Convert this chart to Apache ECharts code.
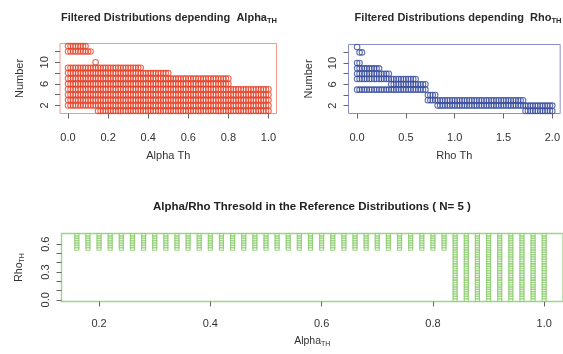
<!DOCTYPE html>
<html>
<head>
<meta charset="utf-8">
<script src="https://cdn.jsdelivr.net/npm/echarts@6/dist/echarts.min.js"></script>
<style>
html,body{margin:0;padding:0;background:#fff;}
#chart{width:563px;height:354px;}
</style>
</head>
<body>
<div id="chart"></div>
<script>
// ---- Data ----
// Alpha thresholds (top-left panel)
const alphaTh = [0,0.0125,0.025,0.0375,0.05,0.0625,0.075,0.0875,0.1,0.1125,0.125,0.1375,0.15,0.1625,0.175,0.1875,0.2,0.2125,0.225,0.2375,0.25,0.2625,0.275,0.2875,0.3,0.3125,0.325,0.3375,0.35,0.3625,0.375,0.3875,0.4,0.4125,0.425,0.4375,0.45,0.4625,0.475,0.4875,0.5,0.5125,0.525,0.5375,0.55,0.5625,0.575,0.5875,0.6,0.6125,0.625,0.6375,0.65,0.6625,0.675,0.6875,0.7,0.7125,0.725,0.7375,0.75,0.7625,0.775,0.7875,0.8,0.8125,0.825,0.8375,0.85,0.8625,0.875,0.8875,0.9,0.9125,0.925,0.9375,0.95,0.9625,0.975,0.9875,1];
// Numbers observed for ranges of alpha thresholds
const alphaRuns = [
  {from:0,      to:0.0875, numbers:[2,3,4,5,6,7,8,9,12,13]},
  {from:0.1,    to:0.1125, numbers:[2,3,4,5,6,7,8,9,12]},
  {from:0.125,  to:0.125,  numbers:[2,3,4,5,6,7,8,9]},
  {from:0.1375, to:0.1375, numbers:[2,3,4,5,6,7,8,9,10]},
  {from:0.15,   to:0.3625, numbers:[1,2,3,4,5,6,7,8,9]},
  {from:0.375,  to:0.5,    numbers:[1,2,3,4,5,6,7,8]},
  {from:0.5125, to:0.8,    numbers:[1,2,3,4,5,6,7]},
  {from:0.8125, to:1,      numbers:[1,2,3,4,5]}
];
// Rho thresholds (top-right panel)
const rhoTh = [0,0.025,0.05,0.075,0.1,0.125,0.15,0.175,0.2,0.225,0.25,0.275,0.3,0.325,0.35,0.375,0.4,0.425,0.45,0.475,0.5,0.525,0.55,0.575,0.6,0.625,0.65,0.675,0.7,0.725,0.75,0.775,0.8,0.825,0.85,0.875,0.9,0.925,0.95,0.975,1,1.025,1.05,1.075,1.1,1.125,1.15,1.175,1.2,1.225,1.25,1.275,1.3,1.325,1.35,1.375,1.4,1.425,1.45,1.475,1.5,1.525,1.55,1.575,1.6,1.625,1.65,1.675,1.7,1.725,1.75,1.775,1.8,1.825,1.85,1.875,1.9,1.925,1.95,1.975,2];
const rhoRuns = [
  {from:0,     to:0,     numbers:[5,7,8,9,10,13]},
  {from:0.025, to:0.025, numbers:[5,7,8,9,10,12]},
  {from:0.05,  to:0.05,  numbers:[5,7,8,9,12]},
  {from:0.075, to:0.225, numbers:[5,7,8,9]},
  {from:0.25,  to:0.325, numbers:[5,7,8]},
  {from:0.35,  to:0.6,   numbers:[5,6,7]},
  {from:0.625, to:0.7,   numbers:[5,6]},
  {from:0.725, to:0.8,   numbers:[3,4]},
  {from:0.825, to:1.7,   numbers:[2,3]},
  {from:1.725, to:2,     numbers:[1,2]}
];
// Bottom panel: alpha columns and rho levels
const refAlpha = [0.16,0.18,0.2,0.22,0.24,0.26,0.28,0.3,0.32,0.34,0.36,0.38,0.4,0.42,0.44,0.46,0.48,0.5,0.52,0.54,0.56,0.58,0.6,0.62,0.64,0.66,0.68,0.7,0.72,0.74,0.76,0.78,0.8,0.82,0.84,0.86,0.88,0.9,0.92,0.94,0.96,0.98,1];
const refRhoHigh = [0.55,0.575,0.6,0.625,0.65,0.675,0.7];
const refRhoAll = [0,0.025,0.05,0.075,0.1,0.125,0.15,0.175,0.2,0.225,0.25,0.275,0.3,0.325,0.35,0.375,0.4,0.425,0.45,0.475,0.5,0.525,0.55,0.575,0.6,0.625,0.65,0.675,0.7];
const refSplitAlpha = 0.84; // columns from here contain all rho levels

// Tick labels
const topLeftXTicks = [0,0.2,0.4,0.6,0.8,1.0];
const topRightXTicks = [0,0.5,1.0,1.5,2.0];
const numberTicks = [2,4,6,8,10,12];
const numberLabels = [2,6,10];
const bottomXTicks = [0.2,0.4,0.6,0.8,1.0];
const bottomYTicks = [0,0.1,0.2,0.3,0.4,0.5,0.6];
const bottomYLabels = [0,0.3,0.6];

// ---- Build point lists ----
const EPS = 1e-9;
function buildPoints(xs, runs){
  const pts = [];
  xs.forEach(x => {
    runs.forEach(r => {
      if (x >= r.from - EPS && x <= r.to + EPS) r.numbers.forEach(n => pts.push([x, n]));
    });
  });
  return pts;
}
const redPts = buildPoints(alphaTh, alphaRuns);
const bluePts = buildPoints(rhoTh, rhoRuns);
const greenPts = [];
refAlpha.forEach(a => {
  const levels = a >= refSplitAlpha - EPS ? refRhoAll : refRhoHigh;
  levels.forEach(r => greenPts.push([a, r]));
});

// ---- Chart ----
const FONT = 'Liberation Sans, Arial, sans-serif';
const labelColor = '#333';
const tickColor = '#666';

function fmt1(v){ return v.toFixed(1); }

function xAxisCfg(gi, min, max, ticks, name, nameGap, rich, margin){
  return {
    type:'value', gridIndex:gi, min:min, max:max,
    axisLine:{show:false, onZero:false}, splitLine:{show:false},
    axisTick:{show:true, length:5, inside:false, customValues:ticks, lineStyle:{color:tickColor, width:1}},
    axisLabel:{show:true, customValues:ticks, formatter:fmt1, margin:margin, fontSize:11, color:labelColor, fontFamily:FONT},
    name:name, nameLocation:'middle', nameGap:nameGap,
    nameTextStyle:{fontSize:11, color:'#333', fontFamily:FONT, rich:rich}
  };
}
function yAxisCfg(gi, min, max, ticks, labels, formatter, name, nameGap, rich){
  return {
    type:'value', gridIndex:gi, min:min, max:max,
    axisLine:{show:false, onZero:false}, splitLine:{show:false},
    axisTick:{show:true, length:5, customValues:ticks, lineStyle:{color:tickColor, width:1}},
    axisLabel:{show:true, customValues:labels, formatter:formatter, rotate:90, margin:10, fontSize:11, color:labelColor, fontFamily:FONT},
    name:name, nameLocation:'middle', nameGap:nameGap, nameRotate:90,
    nameTextStyle:{fontSize:11, color:'#333', fontFamily:FONT, rich:rich}
  };
}

const subRich = {
  m:{fontSize:10.5, color:'#333', fontFamily:FONT, lineHeight:13},
  s:{fontSize:7, color:'#333', fontFamily:FONT, lineHeight:6, verticalAlign:'bottom'}
};
const titleRich = {
  m:{fontSize:11, fontWeight:'bold', color:'#2a2a2a', fontFamily:FONT, lineHeight:15},
  s:{fontSize:7.5, fontWeight:'bold', color:'#2a2a2a', fontFamily:FONT, lineHeight:7, verticalAlign:'bottom'}
};

const option = {
  animation:false,
  backgroundColor:'#ffffff',
  title:[
    {text:'{m|Filtered Distributions depending  Alpha}{s|TH}', left:169, top:10, textAlign:'center', padding:0, textStyle:{rich:titleRich}},
    {text:'{m|Filtered Distributions depending  Rho}{s|TH}', left:458, top:10, textAlign:'center', padding:0, textStyle:{rich:titleRich}},
    {text:'Alpha/Rho Thresold in the Reference Distributions ( N= 5 )', left:312, top:201, textAlign:'center', padding:0,
     textStyle:{fontSize:11.5, fontWeight:'bold', color:'#222', fontFamily:FONT}}
  ],
  grid:[
    {left:60, top:43.5, width:216.5, height:70, show:true, borderColor:'#f29a8a', borderWidth:1, backgroundColor:'transparent'},
    {left:348.5, top:44.5, width:214.5, height:69, show:true, borderColor:'#8a90cc', borderWidth:1, backgroundColor:'transparent'},
    {left:61.5, top:233.5, width:502, height:68, show:true, borderColor:'#9cd884', borderWidth:1.4, backgroundColor:'transparent'}
  ],
  xAxis:[
    xAxisCfg(0, -0.04, 1.04, topLeftXTicks, 'Alpha Th', 37, null, 18.5),
    xAxisCfg(1, -0.088, 2.08, topRightXTicks, 'Rho Th', 37, null, 18.5),
    xAxisCfg(2, 0.1325, 1.0338, bottomXTicks, '{m|Alpha}{s|TH}', 33, subRich, 17)
  ],
  yAxis:[
    yAxisCfg(0, 0.52, 13.48, numberTicks, numberLabels, v => String(v), 'Number', 35, null),
    yAxisCfg(1, 0.52, 13.48, numberTicks, numberLabels, v => String(v), 'Number', 34, null),
    yAxisCfg(2, -0.018, 0.715, bottomYTicks, bottomYLabels, fmt1, '{m|Rho}{s|TH}', 36, subRich)
  ],
  series:[
    {type:'scatter', xAxisIndex:0, yAxisIndex:0, data:redPts, symbol:'circle', symbolSize:5.5,
     itemStyle:{color:'rgba(0,0,0,0)', borderColor:'#e4452c', borderWidth:1.1}, emphasis:{disabled:true}},
    {type:'scatter', xAxisIndex:1, yAxisIndex:1, data:bluePts, symbol:'circle', symbolSize:5.5,
     itemStyle:{color:'rgba(0,0,0,0)', borderColor:'#3b4f9f', borderWidth:1.1}, emphasis:{disabled:true}},
    {type:'scatter', xAxisIndex:2, yAxisIndex:2, data:greenPts, symbol:'rect', symbolSize:[4,3],
     itemStyle:{color:'rgba(0,0,0,0)', borderColor:'#8acb6c', borderWidth:1}, emphasis:{disabled:true}}
  ]
};

const chart = echarts.init(document.getElementById('chart'), null, {renderer:'canvas'});
chart.setOption(option);
</script>
</body>
</html>
